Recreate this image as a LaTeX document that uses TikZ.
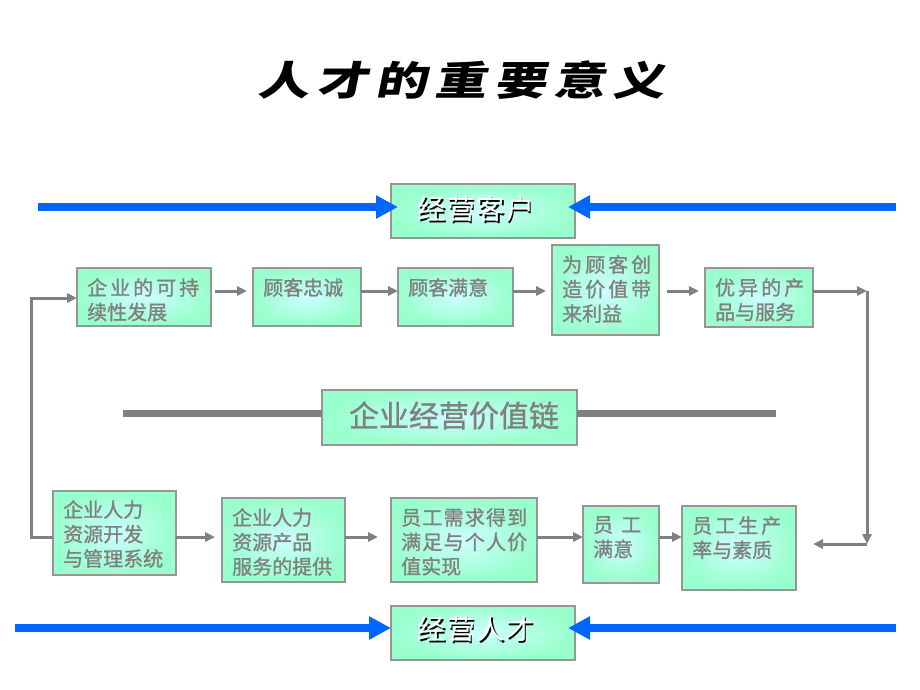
\documentclass[tikz,border=0pt]{standalone}
\usepackage{fontspec}
\setmainfont{Noto Sans CJK SC}
\newfontfamily\boxfn[FakeBold=1.2]{Noto Sans CJK SC}
\newfontfamily\boxfs[LetterSpace=15,FakeBold=1.2]{Noto Sans CJK SC}
\newfontfamily\boxfm[LetterSpace=6,FakeBold=1.2]{Noto Sans CJK SC}
\newfontfamily\vcf[FakeBold=1]{Noto Sans CJK SC}
\newfontfamily\titlef[FakeSlant=0.2,FakeStretch=1.3,LetterSpace=18]{Noto Sans CJK SC}
\newfontfamily\bigf[LetterSpace=5]{Noto Sans CJK SC}
\usetikzlibrary{arrows.meta}
\definecolor{cin}{RGB}{204,255,255}
\definecolor{cout}{RGB}{153,255,204}
\definecolor{bgray}{RGB}{150,150,150}
\definecolor{tgray}{RGB}{128,128,128}
\definecolor{ablue}{RGB}{0,102,255}
\begin{document}
\begin{tikzpicture}[x=1pt,y=-1pt,
 gbox/.style={draw=bgray, line width=1.2pt, inner color=cin, outer color=cout, anchor=north west, inner sep=0pt, outer sep=0pt},
 btxt/.style={anchor=north west, inner sep=0pt, text=tgray, align=left, font=\boxfn\fontsize{20}{24.5}\selectfont},
 garrow/.style={draw=tgray, line width=3pt, -{Triangle[length=10pt,width=9pt]}},
 gline/.style={draw=tgray, line width=7pt},
 barrow/.style={draw=ablue, line width=7.5pt, -{Triangle[length=22pt,width=22pt]}},
 bigtxt/.style={inner sep=0pt, font=\bigf\fontsize{28}{30}\selectfont},
]
\fill[white] (0,0) rectangle (920,690);
\useasboundingbox (0,0) rectangle (920,690);

% title
\node[font=\titlef\bfseries\fontsize{40}{44}\selectfont, inner sep=0pt] (title) at (461,80) {人才的重要意义};

% boxes
\node[gbox, minimum width=184pt, minimum height=54pt] (kh) at (391,184) {};
\node[gbox, minimum width=184pt, minimum height=54pt] (rc) at (391,606) {};
\node[gbox, minimum width=255pt, minimum height=55pt] (vc) at (322,390) {};

\node[gbox, minimum width=134pt, minimum height=58pt] (t1) at (77,268) {};
\node[gbox, minimum width=108pt, minimum height=58pt] (t2) at (253,268) {};
\node[gbox, minimum width=115pt, minimum height=58pt] (t3) at (398,268) {};
\node[gbox, minimum width=107pt, minimum height=90pt] (t4) at (552,245) {};
\node[gbox, minimum width=108pt, minimum height=59pt] (t5) at (705,268) {};

\node[gbox, minimum width=123pt, minimum height=84pt] (b1) at (53,491) {};
\node[gbox, minimum width=123pt, minimum height=84pt] (b2) at (222,498) {};
\node[gbox, minimum width=146pt, minimum height=84pt] (b3) at (391,498) {};
\node[gbox, minimum width=76pt, minimum height=77pt] (b4) at (583,506) {};
\node[gbox, minimum width=114pt, minimum height=84pt] (b5) at (682,506) {};

% box texts
\node[btxt] (t1t) at (87,278) {\boxfs 企业的可持\\\boxfn 续性发展};
\node[btxt] (t2t) at (263,278) {顾客忠诚};
\node[btxt] (t3t) at (408,278) {顾客满意};
\node[btxt] (t4t) at (562,255) {\boxfs 为顾客创\\\boxfs 造价值带\\\boxfn 来利益};
\node[btxt] (t5t) at (715,278) {\boxfs 优异的产\\\boxfn 品与服务};

\node[btxt] (b1t) at (63,500) {企业人力\\资源开发\\与管理系统};
\node[btxt] (b2t) at (232,508) {企业人力\\资源产品\\服务的提供};
\node[btxt] (b3t) at (401,508) {\boxfm 员工需求得到\\\boxfm 满足与个人价\\\boxfn 值实现};
\node[btxt] (b4t) at (593,516) {员\hspace{8pt}工\\满意};
\node[btxt] (b5t) at (692,516) {\boxfs 员\hspace{3pt}工生产\\\boxfn 率与素质};

% value chain
\coordinate (va) at (123,413);
\coordinate (vb) at (776,413);
\draw[gline] (va) -- (vc.west |- va);
\draw[gline] (vc.east |- vb) -- (vb);
\node[font=\vcf\fontsize{30}{32}\selectfont, text=tgray, inner sep=0pt] (vct) at (454,415.5) {企业经营价值链};

% top row connectors
\coordinate (ty) at (0,291);
\draw[garrow, shorten <=4pt, shorten >=6pt] (t1.east |- ty) -- (t2.west |- ty);
\draw[garrow] (t2.east |- ty) -- (t3.west |- ty);
\draw[garrow, shorten >=6pt] (t3.east |- ty) -- (t4.west |- ty);
\draw[garrow, shorten <=8pt, shorten >=6pt] (t4.east |- ty) -- (t5.west |- ty);
\coordinate (r1) at (867,291);
\coordinate (r2) at (867,544);
\coordinate (r3) at (813,544);
\draw[garrow] (t5.east |- ty) -- (r1);
\draw[garrow] (r1) -- (r2);
\draw[garrow] (r2) -- (r3);

% bottom row connectors
\coordinate (by) at (0,537);
\draw[garrow, shorten >=7pt] (b1.east |- by) -- (b2.west |- by);
\draw[garrow, shorten >=13pt] (b2.east |- by) -- (b3.west |- by);
\draw[garrow] (b3.east |- by) -- (b4.west |- by);
\draw[garrow] (b4.east |- by) -- (b5.west |- by);

% left loop
\coordinate (l1) at (31,537);
\coordinate (l2) at (31,298);
\draw[garrow] (b1.west |- l1) -- (l1) -- (l2) -- (t1.west |- l2);

% blue arrows
\coordinate (ka) at (38,207);
\coordinate (kb) at (896,207);
\draw[barrow, shorten >=-7pt] (ka) -- (kh.west |- ka);
\draw[barrow, shorten >=-7pt] (kb) -- (kh.east |- kb);
\coordinate (ra) at (15,628);
\coordinate (rb) at (896,628);
\draw[barrow] (ra) -- (rc.west |- ra);
\draw[barrow, shorten >=-7pt] (rb) -- (rc.east |- rb);

% big labels
\node[bigtxt, text=black] (khs) at (477.5,210.5) {经营客户};
\node[bigtxt, text=white] (kht) at (476,209) {经营客户};
\node[bigtxt, text=black] (rcs) at (477.5,630.5) {经营人才};
\node[bigtxt, text=white] (rct) at (476,629) {经营人才};
\end{tikzpicture}
\end{document}
